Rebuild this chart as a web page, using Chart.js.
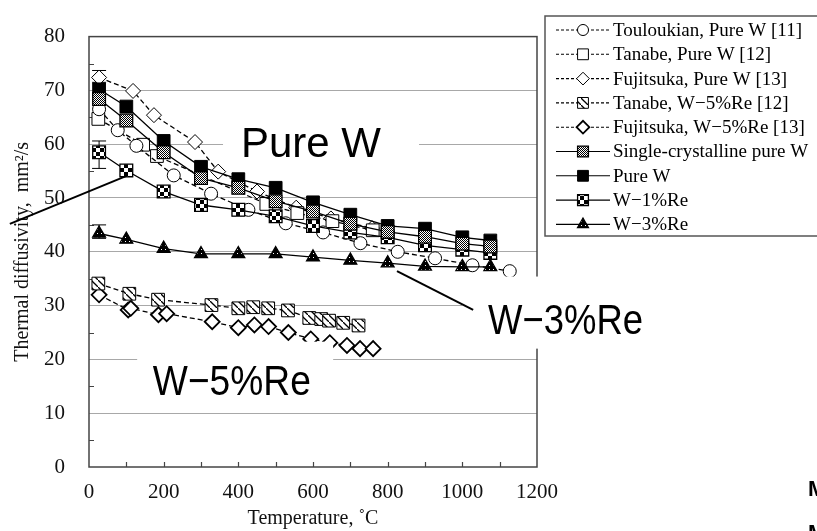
<!DOCTYPE html>
<html>
<head>
<meta charset="utf-8">
<script src="https://cdn.jsdelivr.net/npm/chart.js@4.4.1/dist/chart.umd.min.js"></script>
<style>
  html, body { margin: 0; padding: 0; background: #fff; }
</style>
</head>
<body>
<canvas id="myChart" width="817" height="531"></canvas>
<script>
// data (temperature in C, diffusivity in mm2/s)
const toulT = [27, 77, 127, 227, 327, 427, 527, 627, 727, 827, 927, 1027, 1127];
const toulD = [66.5, 62.6, 59.7, 54.2, 50.8, 47.8, 45.3, 43.6, 41.6, 40.0, 38.8, 37.5, 36.4];
const tanPureT = [25, 145, 182, 475, 558, 652, 760];
const tanPureD = [64.7, 59.9, 57.8, 48.9, 47.2, 45.7, 44.0];
const fujiPureT = [27, 118, 174, 284, 346, 450, 555, 648, 758];
const fujiPureD = [72.4, 69.9, 65.4, 60.4, 54.9, 51.2, 48.2, 46.2, 44.4];
const tanReT = [25, 108, 185, 328, 400, 440, 480, 533, 590, 622, 643, 681, 722];
const tanReD = [34.1, 32.2, 31.1, 30.1, 29.5, 29.7, 29.5, 29.1, 27.7, 27.5, 27.2, 26.8, 26.3];
const fujiReT = [27, 105, 112, 186, 208, 330, 400, 443, 481, 534, 594, 645, 691, 726, 761];
const fujiReD = [32.0, 29.2, 29.5, 28.3, 28.5, 27.0, 25.9, 26.4, 26.1, 25.0, 23.8, 23.1, 22.6, 22.0, 22.0];
const workT = [27, 100, 200, 300, 400, 500, 600, 700, 800, 900, 1000, 1075];
const singleD = [68.4, 64.4, 58.5, 53.7, 51.9, 49.4, 47.5, 45.2, 43.7, 42.8, 41.5, 41.0];
const pureD = [70.2, 67.0, 60.6, 55.8, 53.5, 51.9, 49.2, 46.9, 44.8, 44.3, 42.7, 42.1];
const w1D = [58.5, 55.1, 51.2, 48.7, 47.8, 46.6, 44.8, 43.6, 42.7, 41.2, 40.4, 39.8];
const w3D = [43.4, 42.3, 40.6, 39.6, 39.6, 39.6, 39.0, 38.4, 37.9, 37.3, 37.2, 37.2];
// error bars at room temperature [x, low, high]
const fujiPureErr = [27, 71.5, 73.7];
const w1Err = [27, 55.5, 60.6];
const w3Err = [27, 42.5, 45.0];

const serif = '"Liberation Serif", "Times New Roman", serif';
const sans = '"Liberation Sans", Arial, sans-serif';

const canvas = document.getElementById('myChart');
const ctx = canvas.getContext('2d');

// marker fill patterns
function makePattern(size, draw) {
    const c = document.createElement('canvas');
    c.width = size; c.height = size;
    const g = c.getContext('2d');
    g.fillStyle = '#fff';
    g.fillRect(0, 0, size, size);
    draw(g, size);
    return ctx.createPattern(c, 'repeat');
}
const hatch = makePattern(7, (g, s) => {
    g.strokeStyle = '#000'; g.lineWidth = 1.3;
    g.beginPath(); g.moveTo(0, 0); g.lineTo(s, s); g.stroke();
});
const fineDots = makePattern(2, (g) => {
    g.fillStyle = '#000'; g.fillRect(0, 0, 1, 1); g.fillRect(1, 1, 1, 1);
});
const checker = makePattern(8, (g) => {
    g.fillStyle = '#000'; g.fillRect(0, 0, 4, 4); g.fillRect(4, 4, 4, 4);
});
const darkSpots = makePattern(4, (g) => {
    g.fillStyle = '#000'; g.fillRect(0, 0, 4, 4);
    g.fillStyle = '#fff'; g.fillRect(1, 1, 1, 1);
});

const pts = (t, d) => t.map((v, i) => ({ x: v, y: d[i] }));
const dash = [5, 3];

const datasets = [
    { label: 'Touloukian, Pure W [11]', data: pts(toulT, toulD), pointStyle: 'circle', pointRadius: 6.5, pointBackgroundColor: '#fff', borderDash: dash, order: 2 },
    { label: 'Tanabe, Pure W [12]', data: pts(tanPureT, tanPureD), pointStyle: 'rect', pointRadius: 9, pointBackgroundColor: '#fff', borderDash: dash, order: 2 },
    { label: 'Fujitsuka, Pure W [13]', data: pts(fujiPureT, fujiPureD), pointStyle: 'rectRot', pointRadius: 7.5, pointBackgroundColor: '#fff', borderDash: dash, order: 2 },
    { label: 'Tanabe, W\u22125%Re [12]', data: pts(tanReT, tanReD), pointStyle: 'rect', pointRadius: 9, pointBackgroundColor: hatch, borderDash: dash, order: 2 },
    { label: 'Fujitsuka, W\u22125%Re [13]', data: pts(fujiReT, fujiReD), pointStyle: 'rectRot', pointRadius: 7.5, pointBackgroundColor: '#fff', pointBorderWidth: 1.8, borderDash: dash, order: 2 },
    { label: 'Single-crystalline pure W', data: pts(workT, singleD), pointStyle: 'rect', pointRadius: 9, pointBackgroundColor: fineDots, pointBorderWidth: 1.3, order: 1 },
    { label: 'Pure W', data: pts(workT, pureD), pointStyle: 'rect', pointRadius: 9, pointBackgroundColor: '#000', order: 1 },
    { label: 'W\u22121%Re', data: pts(workT, w1D), pointStyle: 'rect', pointRadius: 9, pointBackgroundColor: checker, pointBorderWidth: 1.3, order: 1 },
    { label: 'W\u22123%Re', data: pts(workT, w3D), pointStyle: 'triangle', pointRadius: 7.5, pointBackgroundColor: darkSpots, pointBorderWidth: 1.2, order: 1 }
];
datasets.forEach(d => {
    d.borderColor = '#000';
    d.pointBorderColor = '#000';
    d.borderWidth = 1.3;
    d.pointBorderWidth = d.pointBorderWidth || 1;
    d.pointHoverRadius = d.pointRadius;
    d.fill = false;
    d.tension = 0;
});

// annotation labels, in data units
const notes = [
    { text: 'Pure W', x: 407, y: 57.6, box: [359, 884, 64.4, 56.4], maxW: 140 },
    { text: 'W\u22125%Re', x: 171, y: 13.3, box: [129, 654, 23.3, 11.6], maxW: 158 },
    { text: 'W\u22123%Re', x: 1069, y: 24.7, box: [1000, 1500, 35.4, 22.0], maxW: 155 }
];
const leaders = [
    [-212, 45.2, 104, 54.2],
    [825, 36.4, 1029, 29.2]
];

const decor = {
    id: 'decor',
    beforeDatasetsDraw(chart) {
        const { ctx, chartArea: a, scales: { x, y } } = chart;
        ctx.save();
        ctx.strokeStyle = '#444';
        ctx.lineWidth = 1.5;
        ctx.strokeRect(a.left, a.top, a.right - a.left, a.bottom - a.top);
        ctx.lineWidth = 1.2;
        ctx.beginPath();
        for (let v = 100; v < 1200; v += 100) {
            const px = Math.round(x.getPixelForValue(v)) + 0.5;
            ctx.moveTo(px, a.bottom); ctx.lineTo(px, a.bottom - 5);
        }
        for (let v = 5; v < 80; v += 10) {
            const py = Math.round(y.getPixelForValue(v)) + 0.5;
            ctx.moveTo(a.left, py); ctx.lineTo(a.left + 5, py);
        }
        ctx.stroke();
        // error bars
        ctx.strokeStyle = '#000';
        ctx.lineWidth = 1;
        [fujiPureErr, w1Err, w3Err].forEach(e => {
            const px = x.getPixelForValue(e[0]);
            const lo = y.getPixelForValue(e[1]), hi = y.getPixelForValue(e[2]);
            ctx.beginPath();
            ctx.moveTo(px, lo); ctx.lineTo(px, hi);
            ctx.moveTo(px - 7, lo); ctx.lineTo(px + 7, lo);
            ctx.moveTo(px - 7, hi); ctx.lineTo(px + 7, hi);
            ctx.stroke();
        });
        ctx.restore();
    },
    afterDraw(chart) {
        const { ctx, chartArea: a, scales: { x, y } } = chart;
        ctx.save();
        // label boxes and texts
        notes.forEach(n => {
            const b = n.box;
            const x0 = x.getPixelForValue(b[0]), x1 = x.getPixelForValue(b[1]);
            const y0 = y.getPixelForValue(b[2]), y1 = y.getPixelForValue(b[3]);
            ctx.fillStyle = '#fff';
            ctx.fillRect(x0, y0, x1 - x0, y1 - y0);
            ctx.fillStyle = '#000';
            ctx.font = '43px ' + sans;
            ctx.textBaseline = 'alphabetic';
            ctx.textAlign = 'left';
            ctx.fillText(n.text, x.getPixelForValue(n.x), y.getPixelForValue(n.y), n.maxW);
        });
        // leader lines
        ctx.strokeStyle = '#000';
        ctx.lineWidth = 2;
        leaders.forEach(l => {
            ctx.beginPath();
            ctx.moveTo(x.getPixelForValue(l[0]), y.getPixelForValue(l[1]));
            ctx.lineTo(x.getPixelForValue(l[2]), y.getPixelForValue(l[3]));
            ctx.stroke();
        });
        // legend box
        const lx = a.right + 8, ly = 16, rowH = 24.3;
        ctx.fillStyle = '#fff';
        ctx.fillRect(lx, ly, 320, 220);
        ctx.strokeStyle = '#555';
        ctx.lineWidth = 1.5;
        ctx.strokeRect(lx, ly, 320, 220);
        chart.data.datasets.forEach((d, i) => {
            const yy = ly + 14 + i * rowH;
            ctx.strokeStyle = '#000';
            ctx.lineWidth = 1.1;
            ctx.setLineDash(d.borderDash ? [3, 2] : []);
            ctx.beginPath();
            ctx.moveTo(lx + 11, yy); ctx.lineTo(lx + 65, yy);
            ctx.stroke();
            ctx.setLineDash([]);
            ctx.fillStyle = d.pointBackgroundColor;
            ctx.lineWidth = d.pointBorderWidth;
            Chart.helpers.drawPoint(ctx, { pointStyle: d.pointStyle, radius: d.pointRadius * 0.85, rotation: 0, borderWidth: d.pointBorderWidth }, lx + 38, yy);
            ctx.fillStyle = '#000';
            ctx.font = '19px ' + serif;
            ctx.textBaseline = 'middle';
            ctx.textAlign = 'left';
            ctx.fillText(d.label, lx + 68, yy + 1);
        });
        // cut-off text at the right edge of the page
        ctx.font = 'bold 22px ' + sans;
        ctx.textBaseline = 'alphabetic';
        ctx.fillText('M', 808, 496);
        ctx.fillText('M', 808, 540);
        ctx.restore();
    }
};

new Chart(ctx, {
    type: 'line',
    data: { datasets: datasets },
    options: {
        responsive: false,
        animation: false,
        devicePixelRatio: 1,
        layout: { padding: { left: 0, right: 280, top: 17, bottom: 0 } },
        plugins: { legend: { display: false }, tooltip: { enabled: false } },
        scales: {
            x: {
                type: 'linear', min: 0, max: 1200,
                afterFit: s => { s.height = 64; },
                ticks: { stepSize: 200, padding: 13, color: '#111', maxRotation: 0, font: { family: serif, size: 21 }, callback: v => String(v) },
                grid: { display: false, drawTicks: false },
                border: { display: false },
                title: { display: true, text: 'Temperature, \u02DAC', color: '#111', font: { family: serif, size: 20 }, padding: { top: 0, bottom: 0 } }
            },
            y: {
                min: 0, max: 80,
                afterFit: s => { s.width = 89; },
                ticks: { stepSize: 10, padding: 24, color: '#111', font: { family: serif, size: 21 }, callback: v => String(v) },
                grid: {
                    drawTicks: false,
                    lineWidth: 1,
                    color: c => (c.tick && c.tick.value > 0 && c.tick.value < 80) ? '#a8a8a8' : 'rgba(0,0,0,0)'
                },
                border: { display: false },
                title: { display: true, text: 'Thermal diffusivity,  mm\u00B2/s', color: '#111', font: { family: serif, size: 20 }, padding: { top: 11, bottom: 0 } }
            }
        }
    },
    plugins: [decor]
});
</script>
</body>
</html>
